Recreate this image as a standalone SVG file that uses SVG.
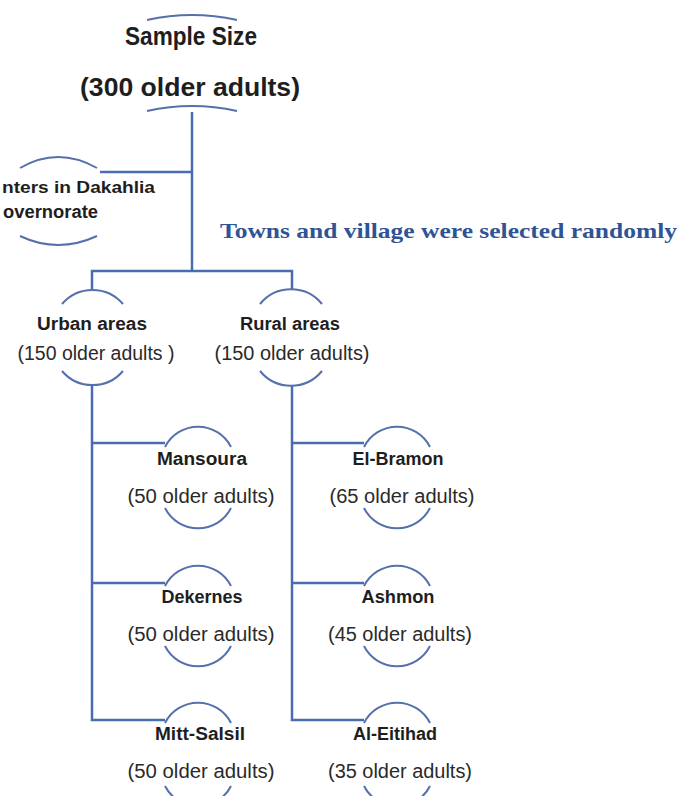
<svg xmlns="http://www.w3.org/2000/svg" width="682" height="796" viewBox="0 0 682 796">
<style>
.ln{fill:none;stroke:#4a6cb0;stroke-width:2.5}
.arc{fill:none;stroke:#5570aa;stroke-width:2}
.t{font-family:"Liberation Sans",Arial,sans-serif;font-weight:bold;fill:#1e1e1e;text-anchor:middle}
.c{font-family:"Liberation Sans",Arial,sans-serif;fill:#2a2a2a;text-anchor:middle;font-size:20px}
.note{font-family:"Liberation Serif","Times New Roman",serif;font-weight:bold;fill:#2f5496;font-size:22px}
</style>
<rect width="682" height="796" fill="#ffffff"/>
<g id="connectors">
<path class="ln" d="M192,112 V271"/>
<path class="ln" d="M192,172 H100"/>
<path class="ln" d="M92,290 V271 H292 V290"/>
<path class="ln" d="M92,386 V720 H165"/>
<path class="ln" d="M92,443 H165"/>
<path class="ln" d="M92,583 H165"/>
<path class="ln" d="M292,386 V720 H364"/>
<path class="ln" d="M292,443 H364"/>
<path class="ln" d="M292,583 H364"/>
</g>
<g id="sample-size">
<path class="arc" d="M147,20 Q192,10 237,20"/>
<text class="t" x="191" y="45" font-size="25" textLength="132" lengthAdjust="spacingAndGlyphs">Sample Size</text>
<text class="t" x="190" y="96" font-size="25" textLength="220" lengthAdjust="spacingAndGlyphs">(300 older adults)</text>
<path class="arc" d="M147,111 Q192,101 237,111"/>
</g>
<g id="centers">
<path class="arc" d="M20,168 Q58,146 97,168"/>
<text class="t" x="2" y="193" font-size="17" style="text-anchor:start" textLength="153" lengthAdjust="spacingAndGlyphs">nters in  Dakahlia</text>
<text class="t" x="3" y="218" font-size="18" style="text-anchor:start" textLength="95" lengthAdjust="spacingAndGlyphs">overnorate</text>
<path class="arc" d="M20,236 Q58,254 97,236"/>
</g>
<g id="note">
<text class="note" x="220" y="238" textLength="457" lengthAdjust="spacingAndGlyphs">Towns and village were selected randomly</text>
</g>
<g id="urban">
<path class="arc" d="M62,304 A40 40 0 0 1 123,304"/>
<text class="t" x="92" y="330" font-size="18" textLength="110" lengthAdjust="spacingAndGlyphs">Urban areas</text>
<text class="c" x="96" y="360" textLength="157" lengthAdjust="spacingAndGlyphs">(150 older adults )</text>
<path class="arc" d="M62,371 A40 40 0 0 0 123,371"/>
</g>
<g id="rural">
<path class="arc" d="M260,304 A40 40 0 0 1 322,304"/>
<text class="t" x="290" y="330" font-size="18" textLength="100" lengthAdjust="spacingAndGlyphs">Rural areas</text>
<text class="c" x="292" y="360" textLength="155" lengthAdjust="spacingAndGlyphs">(150 older adults)</text>
<path class="arc" d="M260,371 A40 40 0 0 0 322,371"/>
</g>
<g id="mansoura">
<path class="arc" d="M165,447 A37 37 0 0 1 231,447"/>
<text class="t" x="202" y="465" font-size="18" textLength="90" lengthAdjust="spacingAndGlyphs">Mansoura</text>
<text class="c" x="201" y="503" textLength="147" lengthAdjust="spacingAndGlyphs">(50 older adults)</text>
<path class="arc" d="M165,508 A37 37 0 0 0 231,508"/>
</g>
<g id="el-bramon">
<path class="arc" d="M364,447 A37 37 0 0 1 430,447"/>
<text class="t" x="398" y="465" font-size="18" textLength="91" lengthAdjust="spacingAndGlyphs">El-Bramon</text>
<text class="c" x="402" y="503" textLength="145" lengthAdjust="spacingAndGlyphs">(65 older adults)</text>
<path class="arc" d="M364,508 A37 37 0 0 0 430,508"/>
</g>
<g id="dekernes">
<path class="arc" d="M165,586 A37 37 0 0 1 231,586"/>
<text class="t" x="202" y="603" font-size="18" textLength="81" lengthAdjust="spacingAndGlyphs">Dekernes</text>
<text class="c" x="201" y="641" textLength="147" lengthAdjust="spacingAndGlyphs">(50 older adults)</text>
<path class="arc" d="M165,646 A37 37 0 0 0 231,646"/>
</g>
<g id="ashmon">
<path class="arc" d="M364,586 A37 37 0 0 1 430,586"/>
<text class="t" x="398" y="603" font-size="18" textLength="73" lengthAdjust="spacingAndGlyphs">Ashmon</text>
<text class="c" x="400" y="641" textLength="144" lengthAdjust="spacingAndGlyphs">(45 older adults)</text>
<path class="arc" d="M364,646 A37 37 0 0 0 430,646"/>
</g>
<g id="mitt-salsil">
<path class="arc" d="M165,723 A37 37 0 0 1 231,723"/>
<text class="t" x="200" y="740" font-size="18" textLength="90" lengthAdjust="spacingAndGlyphs">Mitt-Salsil</text>
<text class="c" x="201" y="778" textLength="147" lengthAdjust="spacingAndGlyphs">(50 older adults)</text>
<path class="arc" d="M165,786 A37 37 0 0 0 231,786"/>
</g>
<g id="al-eitihad">
<path class="arc" d="M364,723 A37 37 0 0 1 430,723"/>
<text class="t" x="395" y="740" font-size="18" textLength="84" lengthAdjust="spacingAndGlyphs">Al-Eitihad</text>
<text class="c" x="400" y="778" textLength="144" lengthAdjust="spacingAndGlyphs">(35 older adults)</text>
<path class="arc" d="M364,786 A37 37 0 0 0 430,786"/>
</g>
</svg>
